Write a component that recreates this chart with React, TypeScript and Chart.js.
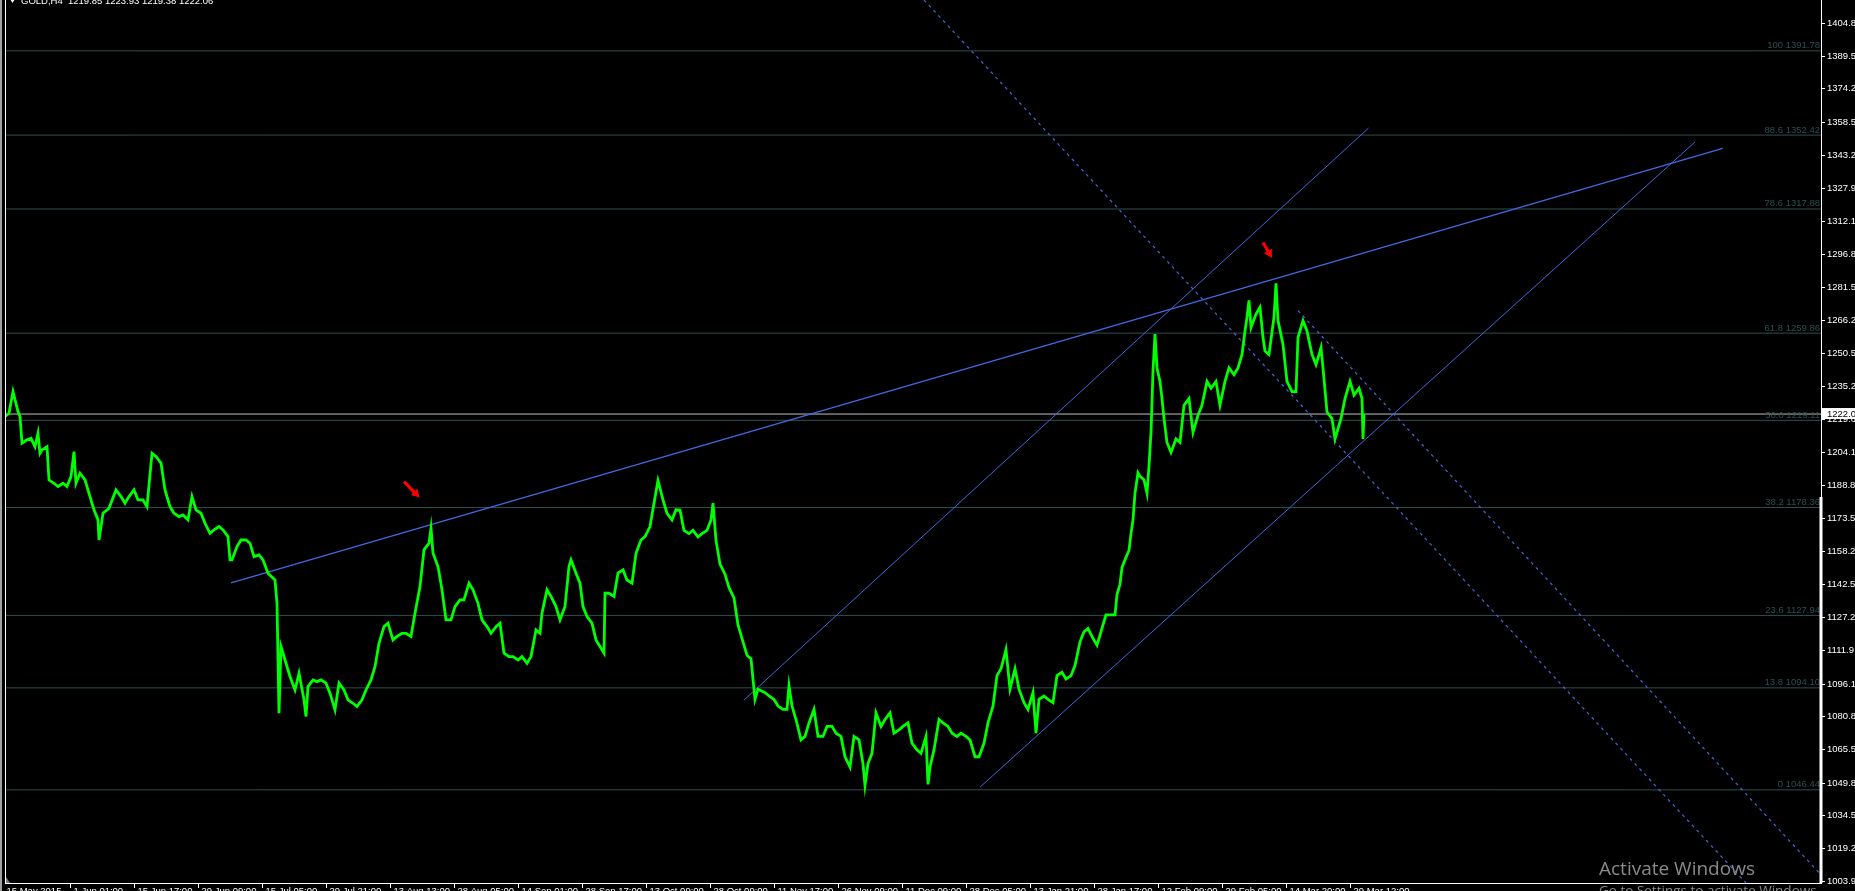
import React, { useEffect, useRef } from "react";
import { Chart, registerables } from "chart.js";

Chart.register(...registerables);

// ---------- scale ranges (bar index, price) ----------
const BAR_MIN = 0;
const BAR_MAX = 1816;
const PRICE_MIN = 1002.9;
const PRICE_MAX = 1415.55;

// ---------- GOLD H4 close path, [bar, price] ----------
const priceSegmentA: [number, number][] = [
  [0, 1220.9], [4, 1222.4], [8, 1232.5], [13, 1223.2], [15, 1220.9], [17, 1208.4], [22, 1210], [26, 1210.7],
  [30, 1206.8], [33, 1213.1], [35, 1203.7], [37, 1205.3], [42, 1206.8], [44, 1191.3], [49, 1189.7], [53, 1188.2],
  [58, 1189.7], [62, 1188.2], [66, 1192.8], [69, 1204.5], [71, 1189.7], [75, 1194.4], [80, 1191.3], [84, 1185],
  [89, 1177.3], [93, 1172.6], [94, 1163.2], [98, 1175.7], [104, 1178], [111, 1186.6], [116, 1183.5], [120, 1180.4],
  [124, 1183.5], [129, 1186.6], [133, 1181.9], [138, 1181.9], [142, 1178.8], [147, 1203.7], [151, 1202.2], [156, 1199.1],
  [160, 1186.6], [165, 1178.8], [169, 1175.7], [174, 1174.1], [178, 1174.9], [183, 1172.6], [187, 1183.5], [191, 1177.3],
  [196, 1175.7], [200, 1171], [205, 1166.3], [209, 1167.9], [214, 1169.5], [218, 1167.9], [223, 1164.8], [225, 1153.9],
  [227, 1153.9], [232, 1160.1], [236, 1163.2], [241, 1163.2], [245, 1161.7], [249, 1155.4], [254, 1156.2], [258, 1153.9],
  [263, 1147.7], [270, 1144.5], [272, 1133.6], [274, 1082.2], [276, 1113.4], [281, 1105.6], [285, 1099.4], [290, 1093.1],
  [294, 1100.9], [299, 1088.5], [301, 1080.7], [303, 1094.7], [308, 1097.8], [312, 1097], [316, 1097.8], [321, 1096.3],
  [325, 1091.6], [330, 1083.8], [334, 1096.3], [339, 1093.1], [343, 1088.5], [348, 1086.9], [352, 1085.4], [357, 1088.5],
  [361, 1093.1], [366, 1097.8], [370, 1104], [374, 1114.9], [379, 1122.7], [383, 1124.3], [388, 1116.5], [392, 1118.1],
  [397, 1119.6], [401, 1119.6], [406, 1118.1], [410, 1129], [415, 1141.4], [419, 1158.6], [424, 1161.7], [426, 1168.7],
  [428, 1157], [433, 1150.8], [437, 1139.9], [441, 1125.9], [446, 1125.9], [450, 1132.1], [455, 1135.2], [459, 1135.2],
  [464, 1143], [468, 1139.9], [473, 1133.6], [477, 1125.9], [482, 1122.7], [486, 1119.6], [491, 1122.7], [495, 1124.3],
  [499, 1110.3], [504, 1108.7], [508, 1108.7], [513, 1107.1], [517, 1108.7], [522, 1105.6], [526, 1108.7], [531, 1121.2],
  [535, 1119.6], [537, 1129], [542, 1139.9], [546, 1136.8], [551, 1132.1], [555, 1125.9], [560, 1132.1], [564, 1150.8],
  [566, 1153.9], [571, 1147.7], [575, 1143], [578, 1132.1], [582, 1127.4], [587, 1124.3], [591, 1116.5], [595, 1113.4],
  [599, 1110.3], [600, 1138.3], [604, 1138.3], [609, 1136.8], [613, 1147.7], [618, 1149.2], [622, 1144.5], [627, 1143],
  [631, 1157], [636, 1163.2], [640, 1164.8], [645, 1169.5], [649, 1180.4], [653, 1191], [658, 1181.9], [662, 1175.7],
  [667, 1172.6], [671, 1177.3],
];

const priceSegmentB: [number, number][] = [
  [675, 1177.2], [679, 1167.7], [684, 1166.2], [688, 1167.7], [693, 1164.6], [697, 1166.2], [702, 1167.7], [706, 1172.5],
  [708, 1180.4], [711, 1163], [715, 1151.9], [720, 1147.2], [724, 1140.9], [729, 1136.1], [733, 1123.5], [737, 1117.2],
  [742, 1109.3], [746, 1107.7], [750, 1088.7], [753, 1093.5], [760, 1091.9], [764, 1090.3], [769, 1088.7], [773, 1085.6],
  [778, 1084], [782, 1084], [784, 1095.1], [787, 1085.6], [791, 1079.3], [796, 1069.8], [800, 1071.4], [804, 1077.7],
  [809, 1084], [813, 1071.4], [818, 1071.4], [822, 1076.1], [827, 1076.1], [831, 1072.9], [836, 1071.4], [840, 1061.9],
  [845, 1057.1], [849, 1071.4], [854, 1069.8], [858, 1058.7], [860, 1048.5], [863, 1058.7], [867, 1063.5], [871, 1082.4],
  [876, 1076.1], [880, 1079.3], [885, 1082.4], [889, 1072.9], [894, 1074.5], [898, 1076.1], [903, 1077.7], [907, 1068.2],
  [912, 1065.1], [916, 1063.5], [921, 1071.4], [923, 1049], [925, 1057.1], [929, 1065.1], [934, 1079.3], [938, 1077.7],
  [943, 1076.1], [947, 1072.9], [952, 1071.4], [956, 1072.9], [961, 1071.4], [965, 1069.8], [970, 1061.9], [974, 1061.9],
  [979, 1068.2], [983, 1077.7], [988, 1085.6], [992, 1099.8], [996, 1103], [1001, 1112], [1005, 1093.5], [1010, 1103],
  [1014, 1093.5], [1019, 1087.2], [1023, 1084], [1028, 1091.9], [1031, 1072.9], [1034, 1088.7], [1039, 1090.3], [1043, 1088.7],
  [1048, 1087.2], [1052, 1099.8], [1057, 1101.4], [1061, 1098.2], [1066, 1099.8], [1070, 1104.5], [1075, 1115.6], [1079, 1120.3],
  [1083, 1121.9], [1088, 1117.2], [1092, 1114], [1097, 1121.9], [1101, 1128.2], [1106, 1128.2], [1110, 1128.2], [1112, 1137.7],
  [1115, 1142.5], [1117, 1150.4], [1121, 1155.1], [1124, 1158.3], [1126, 1166.2], [1128, 1172.5], [1130, 1185.1], [1133, 1194.6],
  [1135, 1193], [1139, 1191.4], [1142, 1185.1], [1144, 1197.8], [1146, 1213.5], [1148, 1242], [1150, 1259.4], [1152, 1243.6],
  [1155, 1237.3], [1157, 1229.3], [1159, 1219.9], [1162, 1208.8], [1166, 1204.1], [1171, 1210.4], [1175, 1208.8], [1179, 1226.2],
  [1184, 1229.3], [1188, 1213.5], [1193, 1221.5], [1197, 1226.2], [1202, 1237.3], [1206, 1234.1], [1211, 1237.3], [1215, 1226.2],
  [1220, 1237.3], [1224, 1243.6], [1229, 1240.4], [1233, 1243.6], [1237, 1249.9], [1240, 1260.9], [1242, 1267.3], [1244, 1275.2],
  [1246, 1262.5], [1251, 1268.8], [1255, 1272], [1258, 1257.8], [1260, 1251.5], [1264, 1249.9], [1269, 1267.3], [1271, 1283.1],
  [1273, 1265.7], [1278, 1254.6], [1282, 1237.3], [1287, 1232.5], [1291, 1232.5], [1293, 1257.8], [1298, 1265.7], [1302, 1260.9],
  [1307, 1249.9], [1311, 1245.1], [1316, 1253], [1318, 1243.6], [1322, 1223], [1327, 1219.9], [1330, 1210.4], [1336, 1219.9],
  [1340, 1229.3], [1345, 1237.3], [1349, 1230.9], [1354, 1234.1], [1357, 1229.3], [1358, 1210.4], [1359, 1222.06],
];

// ---------- axes ----------
const yTickValues = [
  1404.8, 1389.5, 1374.2, 1358.5, 1343.2, 1327.9, 1312.1, 1296.8, 1281.5, 1266.2, 1250.5, 1235.2, 1219.6, 1204.1,
  1188.8, 1173.5, 1158.2, 1142.5, 1127.2, 1111.9, 1096.1, 1080.8, 1065.5, 1049.8, 1034.5, 1019.2, 1003.9,
];
const xTickBars = [0, 65, 129, 193, 257, 321, 385, 449, 513, 577, 641, 705, 769, 833, 897, 961, 1025, 1089, 1153, 1217, 1281, 1345];
const xTickLabels = [
  "15 May 2015", "1 Jun 01:00", "15 Jun 17:00", "29 Jun 09:00", "15 Jul 05:00", "29 Jul 21:00", "13 Aug 13:00",
  "28 Aug 05:00", "14 Sep 01:00", "28 Sep 17:00", "13 Oct 09:00", "28 Oct 09:00", "11 Nov 17:00", "26 Nov 09:00",
  "11 Dec 09:00", "28 Dec 05:00", "13 Jan 21:00", "28 Jan 17:00", "12 Feb 09:00", "29 Feb 05:00", "14 Mar 20:00",
  "29 Mar 12:00",
];

// ---------- fibonacci retracement ----------
const fibLevels = ["100", "88.6", "78.6", "61.8", "50.0", "38.2", "23.6", "13.8", "0"];
const fibPrices = [1391.78, 1352.42, 1317.88, 1259.86, 1219.11, 1178.36, 1127.94, 1094.1, 1046.44];

// ---------- bid / header ----------
const bidPrice = 1222.06;
const bidLabel = "1222.0";
const headerSymbol = "GOLD,H4";
const headerQuote = "1219.85 1223.93 1219.38 1222.06";

// ---------- trend objects [bar, price] ----------
const trendUpper: [number, number][] = [[226, 1143.1], [1717.7, 1346.2]];
const channelUpper: [number, number][] = [[738.8, 1088.3], [1363.5, 1355.7]];
const channelLower: [number, number][] = [[975, 1047.7], [1690, 1349.2]];
const dashedA: [number, number][] = [[919, 1415.55], [1741, 1002.9]];
const dashedB: [number, number][] = [[1293, 1270.4], [1816, 1006.7]];

// ---------- red arrows (tail -> tip) ----------
const arrowTails: [number, number][] = [[399, 1190.5], [1258, 1302.2]];
const arrowTips: [number, number][] = [[414.6, 1183.0], [1267, 1295.0]];

// ---------- watermark ----------
const watermarkTitle = "Activate Windows";
const watermarkSub = "Go to Settings to activate Windows.";

const FONT = "9.5px 'Liberation Sans', Arial, sans-serif";
const FIB_COLOR = "#2f4f4f";
const BLUE = "#4169e1";

const toXY = (arr: [number, number][]) => arr.map(([x, y]) => ({ x, y }));

function drawArrow(ctx: CanvasRenderingContext2D, x1: number, y1: number, x2: number, y2: number) {
  const dx = x2 - x1;
  const dy = y2 - y1;
  const len = Math.hypot(dx, dy);
  const ux = dx / len;
  const uy = dy / len;
  const px = -uy;
  const py = ux;
  const headLen = 8;
  const headW = 4.5;
  const shaftW = 1.6;
  const bx = x2 - ux * headLen;
  const by = y2 - uy * headLen;
  ctx.beginPath();
  ctx.moveTo(x1 + px * shaftW, y1 + py * shaftW);
  ctx.lineTo(bx + px * shaftW, by + py * shaftW);
  ctx.lineTo(bx + px * headW, by + py * headW);
  ctx.lineTo(x2, y2);
  ctx.lineTo(bx - px * headW, by - py * headW);
  ctx.lineTo(bx - px * shaftW, by - py * shaftW);
  ctx.lineTo(x1 - px * shaftW, y1 - py * shaftW);
  ctx.closePath();
  ctx.fill();
}

const mt4Plugin = {
  id: "mt4Frame",
  beforeDraw(chart: any) {
    const ctx: CanvasRenderingContext2D = chart.ctx;
    ctx.save();
    ctx.fillStyle = "#000000";
    ctx.fillRect(0, 0, chart.width, chart.height);
    ctx.restore();
  },
  afterDraw(chart: any) {
    const ctx: CanvasRenderingContext2D = chart.ctx;
    const xs = chart.scales.x;
    const ys = chart.scales.y;
    const a = chart.chartArea;
    ctx.save();

    // fib labels
    ctx.font = FONT;
    ctx.fillStyle = FIB_COLOR;
    ctx.textAlign = "right";
    ctx.textBaseline = "alphabetic";
    fibLevels.forEach((lv, i) => {
      const py = ys.getPixelForValue(fibPrices[i]);
      ctx.fillText(`${lv} ${fibPrices[i].toFixed(2)}`, a.right - 1, py - 2.5);
    });

    // red arrows
    ctx.fillStyle = "#ff0000";
    arrowTails.forEach((t, i) => {
      const tip = arrowTips[i];
      drawArrow(
        ctx,
        xs.getPixelForValue(t[0]),
        ys.getPixelForValue(t[1]),
        xs.getPixelForValue(tip[0]),
        ys.getPixelForValue(tip[1])
      );
    });

    // frame
    ctx.fillStyle = "#a0a0a0";
    ctx.fillRect(0, 0, 2, chart.height);
    ctx.fillStyle = "#ffffff";
    ctx.fillRect(a.left, 0, 1, a.bottom + 1);
    ctx.fillRect(a.right, 0, 1, a.bottom + 1);
    ctx.fillRect(a.right - 1.5, 497, 3, a.bottom - 497);
    ctx.fillRect(a.left, a.bottom, a.right - a.left + 1, 1);

    // small marker bottom-left
    ctx.fillStyle = "#708090";
    ctx.beginPath();
    ctx.moveTo(a.left + 1, a.bottom - 6);
    ctx.lineTo(a.left + 5, a.bottom);
    ctx.lineTo(a.left + 1, a.bottom);
    ctx.closePath();
    ctx.fill();

    // y axis ticks + labels
    ctx.fillStyle = "#ffffff";
    ctx.strokeStyle = "#ffffff";
    ctx.lineWidth = 1;
    ctx.font = FONT;
    ctx.textAlign = "left";
    ctx.textBaseline = "middle";
    yTickValues.forEach((v) => {
      const py = Math.round(ys.getPixelForValue(v)) + 0.5;
      ctx.beginPath();
      ctx.moveTo(a.right + 1, py);
      ctx.lineTo(a.right + 4, py);
      ctx.stroke();
      ctx.fillText(v.toFixed(1), a.right + 6, py);
    });

    // bid price box
    const bidY = ys.getPixelForValue(bidPrice);
    ctx.fillStyle = "#ffffff";
    ctx.fillRect(a.right + 1, bidY - 6, chart.width - a.right, 11);
    ctx.fillStyle = "#000000";
    ctx.fillText(bidLabel, a.right + 6, bidY);

    // x axis ticks + labels
    ctx.fillStyle = "#ffffff";
    ctx.textBaseline = "top";
    xTickBars.forEach((b, i) => {
      const px = Math.round(xs.getPixelForValue(b)) + 0.5;
      if (i > 0) {
        ctx.beginPath();
        ctx.moveTo(px, a.bottom + 1);
        ctx.lineTo(px, a.bottom + 5);
        ctx.stroke();
      }
      ctx.fillText(xTickLabels[i], px + (i === 0 ? 1 : 3), a.bottom + 4);
    });

    // header
    ctx.textBaseline = "alphabetic";
    ctx.fillStyle = "#ffffff";
    ctx.beginPath();
    ctx.moveTo(10, -1);
    ctx.lineTo(15, -1);
    ctx.lineTo(12.5, 3);
    ctx.closePath();
    ctx.fill();
    ctx.fillText(headerSymbol, 21, 3.5);
    ctx.fillText(headerQuote, 68, 3.5);

    // watermark
    ctx.fillStyle = "#8a8a8a";
    ctx.font = "19px 'Open Sans', 'Noto Sans', sans-serif";
    ctx.fillText(watermarkTitle, 1599, 875);
    ctx.font = "13.5px 'Open Sans', 'Noto Sans', sans-serif";
    ctx.fillText(watermarkSub, 1599, 895);

    ctx.restore();
  },
};

export default function App() {
  const canvasRef = useRef<HTMLCanvasElement | null>(null);

  useEffect(() => {
    const canvas = canvasRef.current;
    if (!canvas) return;
    const flat = (pts: [number, number][], color: string, width: number, dash: number[] = [], order = 2) => ({
      data: toXY(pts),
      borderColor: color,
      borderWidth: width,
      borderDash: dash,
      pointRadius: 0,
      fill: false,
      tension: 0,
      order,
    });

    const datasets: any[] = [];
    fibPrices.forEach((p) => {
      datasets.push(flat([[BAR_MIN, p], [BAR_MAX, p]], FIB_COLOR, 1, [], 5));
    });
    datasets.push(flat([[BAR_MIN, bidPrice], [BAR_MAX, bidPrice]], "#c0c0c0", 1, [], 4));
    datasets.push(flat(trendUpper, BLUE, 1.3, [], 3));
    datasets.push(flat(channelUpper, BLUE, 1, [], 3));
    datasets.push(flat(channelLower, BLUE, 1, [], 3));
    datasets.push(flat(dashedA, BLUE, 1.2, [3, 4], 3));
    datasets.push(flat(dashedB, BLUE, 1.2, [3, 4], 3));
    datasets.push(flat([...priceSegmentA, ...priceSegmentB], "#00ff00", 2.8, [], 0));

    const chart = new Chart(canvas, {
      type: "line",
      data: { datasets },
      options: {
        animation: false,
        responsive: false,
        devicePixelRatio: 1,
        events: [],
        layout: { padding: { left: 5, right: 34, top: 0, bottom: 8 } },
        scales: {
          x: { type: "linear", min: BAR_MIN, max: BAR_MAX, display: false },
          y: { type: "linear", min: PRICE_MIN, max: PRICE_MAX, display: false },
        },
        plugins: { legend: { display: false }, tooltip: { enabled: false } },
        elements: { point: { radius: 0 }, line: { tension: 0 } },
      },
      plugins: [mt4Plugin],
    });
    return () => chart.destroy();
  }, []);

  return (
    <div style={{ position: "fixed", left: 0, top: 0, width: 1855, height: 891, background: "#000", overflow: "hidden" }}>
      <canvas ref={canvasRef} width={1855} height={891} style={{ display: "block", width: 1855, height: 891 }} />
    </div>
  );
}
